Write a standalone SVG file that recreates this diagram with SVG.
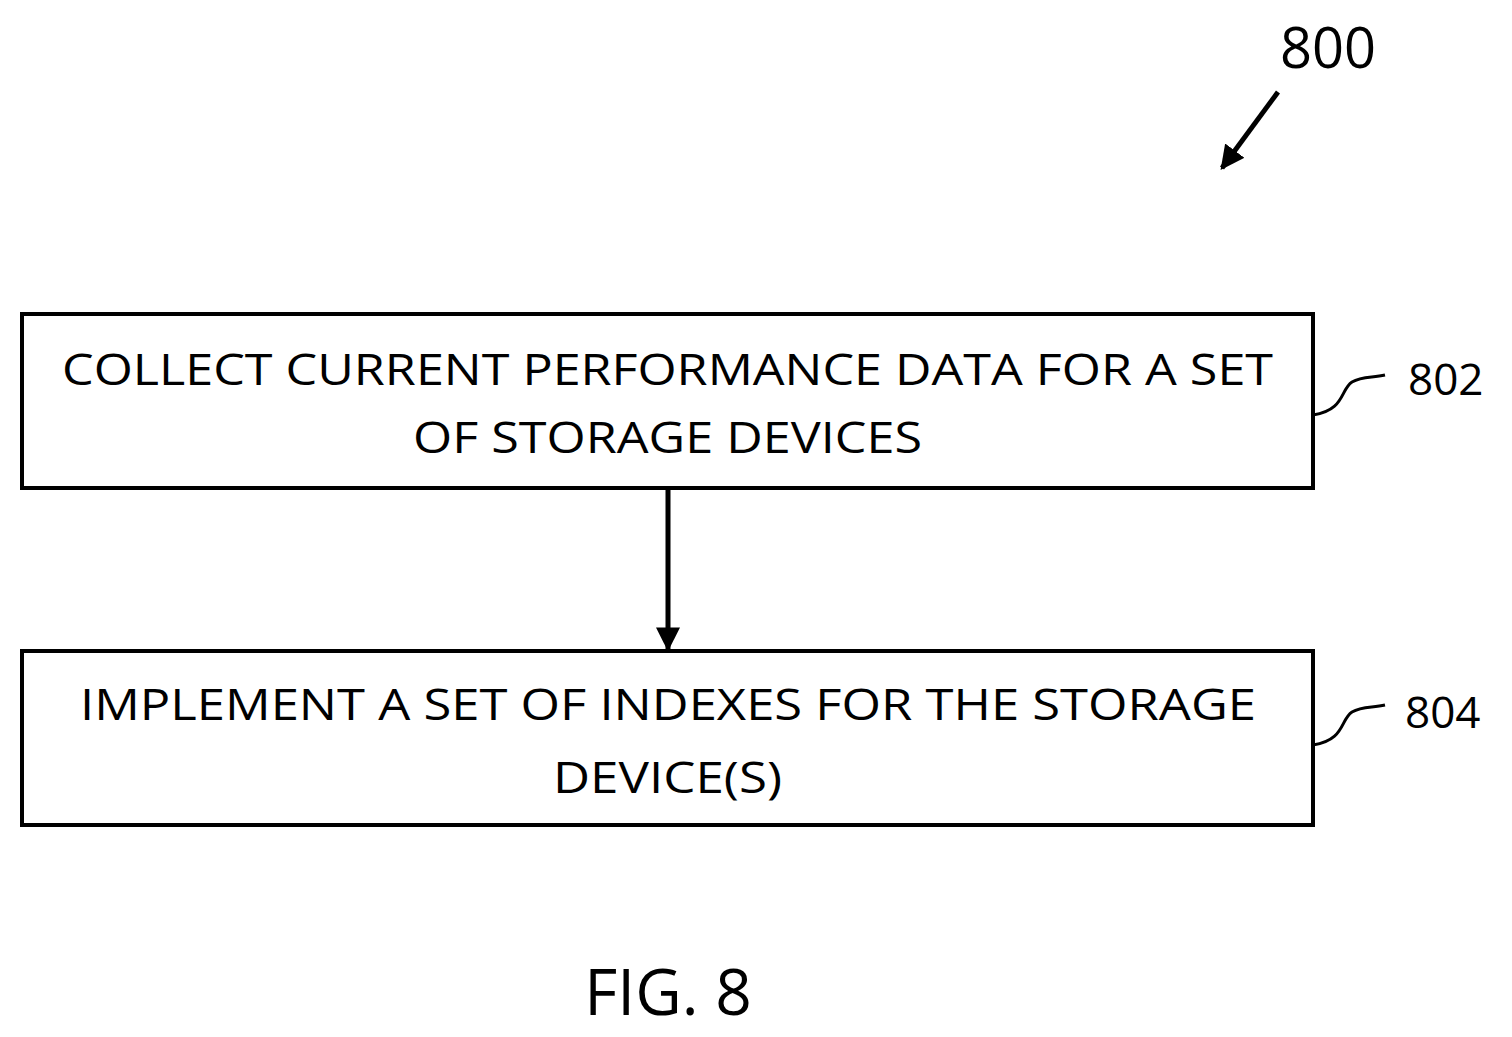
<svg xmlns="http://www.w3.org/2000/svg" width="1512" height="1037" viewBox="0 0 1512 1037">
<style>
.box{fill:#fff;stroke:#000;stroke-width:4}
.t{font-family:"Open Sans","Liberation Sans",sans-serif;font-size:44px;fill:#000}
.c{stroke:#000;stroke-width:5;fill:none}
.s{stroke:#000;stroke-width:3;fill:none}
</style>
<defs><marker id="ah" markerWidth="8" markerHeight="8" refX="6" refY="4" orient="auto" markerUnits="userSpaceOnUse" viewBox="0 0 8 8"><path d="M0,0 L8,4 L0,8 z" fill="#000"/></marker>
<marker id="a2" viewBox="0 0 10 10" refX="9" refY="5" markerWidth="24" markerHeight="24" markerUnits="userSpaceOnUse" orient="auto"><path d="M0,0 L10,5 L0,10 z" fill="#000"/></marker></defs>
<rect width="1512" height="1037" fill="#fff"/>
<text class="t" x="1280" y="68" style="font-size:56px">800</text>
<line class="c" x1="1278" y1="92" x2="1222" y2="168" marker-end="url(#a2)"/>
<g id="n802">
<rect class="box" x="22" y="314" width="1291" height="174"/>
<text class="t" x="62" y="385" textLength="1211" lengthAdjust="spacingAndGlyphs">COLLECT CURRENT PERFORMANCE DATA FOR A SET</text>
<text class="t" x="413" y="453" textLength="509" lengthAdjust="spacingAndGlyphs">OF STORAGE DEVICES</text>
<path class="s" d="M1313,415 C1345,410 1340,390 1352,382 C1362,376 1372,378 1385,375"/>
<text class="t" x="1408" y="395">802</text>
</g>
<g id="n804">
<rect class="box" x="22" y="651" width="1291" height="174"/>
<text class="t" x="80" y="720" textLength="1176" lengthAdjust="spacingAndGlyphs">IMPLEMENT A SET OF INDEXES FOR THE STORAGE</text>
<text class="t" x="553" y="793" textLength="229" lengthAdjust="spacingAndGlyphs">DEVICE(S)</text>
<path class="s" d="M1313,745 C1345,740 1340,720 1352,712 C1362,706 1372,708 1385,705"/>
<text class="t" x="1405" y="728">804</text>
</g>
<g id="connectors">
<line class="c" x1="668" y1="488" x2="668" y2="649" marker-end="url(#a2)"/>
</g>
<text class="t" x="668" y="1015" text-anchor="middle" style="font-size:64px">FIG. 8</text>
</svg>
